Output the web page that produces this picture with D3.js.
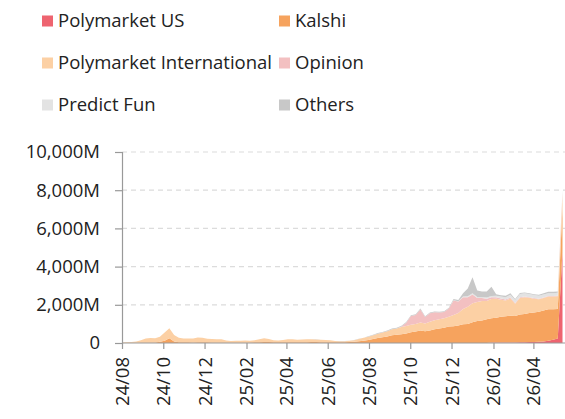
<!DOCTYPE html>
<html>
<head>
<meta charset="utf-8">
<script src="https://cdn.jsdelivr.net/npm/d3@7"></script>
<style>
  html, body { margin: 0; padding: 0; background: #fff; }
  svg { display: block; font-family: "Open Sans", sans-serif; }
</style>
</head>
<body>
<div id="chart"></div>
<script>
// Weekly volume in millions of USD, one value per week from 2024-08-01
const series = ["Polymarket US", "Kalshi", "Polymarket International", "Opinion", "Predict Fun", "Others"];
const colors = ["#ee6470", "#f6a35e", "#fcd0a4", "#f3c0c1", "#e3e3e3", "#c8c8c8"];

const polymarketUS = [
  0,0,0,0,0,0,0,0,0,0, 0,0,0,0,0,0,0,0,0,0,
  0,0,0,0,0,0,0,0,0,0, 0,0,0,0,0,0,0,0,0,0,
  0,0,0,0,0,0,0,0,0,0, 0,0,0,0,0,0,0,0,0,0,
  0,0,0,0,0,0,0,0,0,0, 0,0,0,0,0,0,0,0,20,20,
  20,20,30,30,40,40,50,50,60,80, 120,170,230,4800
];
const kalshi = [
  5,5,10,15,20,25,25,30,60,120, 250,80,40,35,35,30,40,40,35,30,
  30,30,25,25,25,25,30,30,35,45, 55,50,40,35,40,45,45,40,40,45,
  50,50,45,45,45,40,40,45,55,70, 90,120,160,210,260,300,340,400,430,460,
  500,560,600,650,620,660,720,760,800,860, 880,920,980,1000,1080,1150,1180,1250,1280,1300,
  1350,1380,1400,1380,1450,1480,1520,1550,1580,1620, 1650,1600,1550,2300
];
const polymarketIntl = [
  25,35,40,65,130,215,235,220,270,430, 520,340,230,205,205,200,250,230,185,180,
  170,160,105,85,95,95,100,90,105,155, 195,160,110,95,120,155,145,130,140,145,
  145,135,120,110,100,65,55,50,60,80, 120,150,170,200,230,250,280,320,330,380,
  390,400,400,420,400,450,470,480,500,520, 580,650,800,900,1000,1000,1020,950,1000,1000,
  900,830,900,650,870,880,800,720,650,650, 660,660,670,700
];
const opinion = [
  0,0,0,0,0,0,0,0,0,0, 0,0,0,0,0,0,0,0,0,0,
  0,0,0,0,0,0,0,0,0,0, 0,0,0,0,0,0,0,0,0,0,
  0,0,0,0,0,0,0,0,0,0, 0,0,0,0,0,0,0,0,0,20,
  170,450,460,690,340,450,420,360,320,420, 760,600,620,500,460,200,150,120,100,80,
  60,50,50,40,40,40,30,30,30,30, 30,30,30,50
];
const predictFun = [
  0,0,0,0,0,0,0,0,0,0, 0,0,0,0,0,0,0,0,0,0,
  0,0,0,0,0,0,0,0,0,0, 0,0,0,0,0,0,0,0,0,0,
  0,0,0,0,0,0,0,0,0,0, 0,0,0,0,0,0,0,0,0,0,
  0,0,0,0,0,0,0,0,0,10, 20,20,40,50,60,60,60,60,60,80,
  100,120,150,150,160,170,160,160,160,160, 150,150,150,100
];
const others = [
  0,0,0,0,0,0,0,0,0,0, 0,0,0,0,0,0,0,0,0,0,
  0,0,0,0,0,0,0,0,0,0, 0,0,0,0,0,0,0,0,0,0,
  5,5,5,5,5,5,5,5,5,10, 10,10,20,20,30,30,30,40,40,40,
  40,40,40,40,40,40,40,40,40,40, 60,60,160,400,840,340,290,320,490,70,
  70,80,70,50,60,40,40,40,40,60, 70,70,70,50
];
const yTicks = [0, 2000, 4000, 6000, 8000, 10000];

const values = [polymarketUS, kalshi, polymarketIntl, opinion, predictFun, others];
const startDate = new Date(2024, 7, 1);
const rows = polymarketUS.map((_, i) => {
  const row = { date: d3.timeDay.offset(startDate, 7 * i) };
  series.forEach((s, k) => (row[s] = values[k][i]));
  return row;
});

const width = 565;
const height = 419;
const marginLeft = 122;
const plotTop = 152;
const plotBottom = 343;
const fontSize = "18.5px";

const svg = d3
  .select("#chart")
  .append("svg")
  .attr("width", width)
  .attr("height", height);

const x = d3
  .scaleTime()
  .domain(d3.extent(rows, (d) => d.date))
  .range([marginLeft, 562.5]);

const y = d3.scaleLinear().domain([0, 10000]).range([plotBottom, plotTop]);

// Gridlines
svg
  .append("g")
  .selectAll("line")
  .data(yTicks.slice(1))
  .join("line")
  .attr("x1", marginLeft)
  .attr("x2", width)
  .attr("y1", (d) => y(d))
  .attr("y2", (d) => y(d))
  .attr("stroke", "#dcdcdc")
  .attr("stroke-width", 1.2)
  .attr("stroke-dasharray", "5,4");

// Stacked areas
const stack = d3.stack().keys(series);
const layers = stack(rows);
const area = d3
  .area()
  .x((d) => x(d.data.date))
  .y0((d) => y(d[0]))
  .y1((d) => y(d[1]));

svg
  .append("g")
  .selectAll("path")
  .data(layers)
  .join("path")
  .attr("fill", (d, i) => colors[i])
  .attr("d", area);

// Y axis
const yAxis = svg
  .append("g")
  .attr("transform", `translate(${marginLeft},0)`)
  .call(
    d3
      .axisLeft(y)
      .tickValues(yTicks)
      .tickSize(7)
      .tickPadding(15)
      .tickFormat((d) => (d === 0 ? "0" : d3.format(",")(d) + "M"))
  );
yAxis.select(".domain").attr("stroke", "#999").attr("stroke-width", 1.2);
yAxis.selectAll(".tick line").attr("stroke", "#999").attr("stroke-width", 1.2);
yAxis
  .selectAll(".tick text")
  .attr("fill", "#222")
  .style("font-size", fontSize)
  .style("font-family", "'Open Sans', sans-serif");

// X axis: a tick every two months from 24/08
const xTicks = d3.timeMonth.range(startDate, x.domain()[1], 2);
const xAxis = svg
  .append("g")
  .attr("transform", `translate(0,${plotBottom})`)
  .call(
    d3
      .axisBottom(x)
      .tickValues(xTicks)
      .tickSize(6)
      .tickFormat(d3.timeFormat("%y/%m"))
  );
xAxis.select(".domain").attr("stroke", "#999").attr("stroke-width", 1.2).attr("d", `M${marginLeft},0H${width}`);
xAxis.selectAll(".tick line").attr("stroke", "#999").attr("stroke-width", 1.2);
xAxis
  .selectAll(".tick text")
  .attr("fill", "#222")
  .style("font-size", fontSize)
  .style("font-family", "'Open Sans', sans-serif")
  .attr("text-anchor", "end")
  .attr("transform", "rotate(-90)")
  .attr("x", -14)
  .attr("y", 0)
  .attr("dy", "0.35em");

// Legend
const legend = svg.append("g");
const legendItems = legend
  .selectAll("g")
  .data(series)
  .join("g")
  .attr("transform", (d, i) => `translate(${i % 2 === 0 ? 42 : 279},${21 + Math.floor(i / 2) * 42})`);

legendItems
  .append("rect")
  .attr("x", 0)
  .attr("y", -5.5)
  .attr("width", 11)
  .attr("height", 11)
  .attr("fill", (d, i) => colors[i]);

legendItems
  .append("text")
  .attr("x", 16)
  .attr("dy", "0.35em")
  .attr("fill", "#222")
  .style("font-size", fontSize)
  .text((d) => d);
</script>
</body>
</html>
